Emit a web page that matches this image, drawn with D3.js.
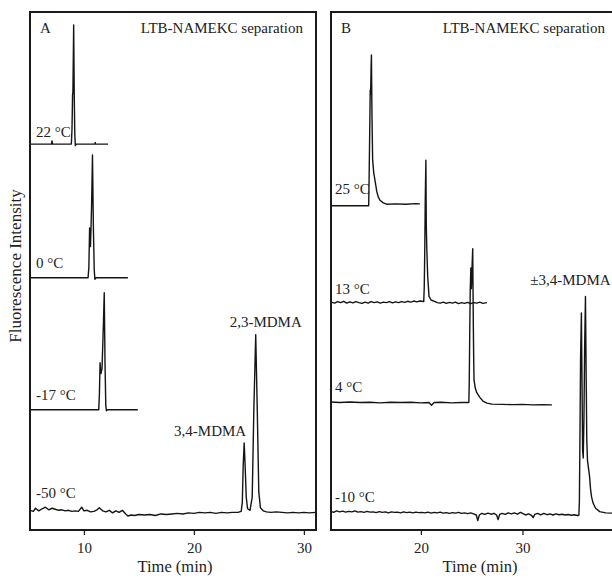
<!DOCTYPE html>
<html>
<head>
<meta charset="utf-8">
<script src="https://cdn.jsdelivr.net/npm/d3@7"></script>
<style>
  body { margin: 0; background: #fff; }
  svg text { font-family: "Liberation Serif", "Times New Roman", serif; fill: #222; }
</style>
</head>
<body>
<svg id="chart" width="612" height="579"></svg>
<script>
// panel A traces: [time (min), signal above own baseline]
const a22 = [[5.1,0],[7.05,0],[7.1,0.6],[7.15,0],[8.86,0],[8.92,3],[8.97,9.5],[9.0,10],[9.04,17],[9.07,23],[9.12,10],[9.17,2],[9.22,-0.3],[9.3,0],[11.0,0],[11.03,0.3],[11.06,0],[12.2,0]];
const a0 = [[5.1,0],[10.38,0],[10.45,2],[10.52,9.6],[10.6,6],[10.7,14],[10.78,23.7],[10.86,10],[10.94,1.5],[11.0,-0.3],[11.1,0],[14.0,0]];
const a17 = [[5.1,0],[11.35,0],[11.41,3],[11.47,9.1],[11.55,7],[11.65,8],[11.78,17],[11.85,22.6],[11.92,9],[11.99,0.8],[12.05,-0.2],[12.15,0],[14.9,0]];
const a50 = [[5.1,0.5],[5.4,0.3],[5.6,0.9],[5.9,0.4],[6.2,0.8],[6.5,1.1],[6.8,0.6],[7.1,0.9],[7.4,0.7],[7.7,0.5],[8.0,0.6],[8.3,0.4],[8.6,0.5],[8.9,0.3],[9.2,0.4],[9.5,0.3],[9.8,1.1],[10.0,0.4],[10.3,0.5],[10.6,0.2],[10.9,0.3],[11.2,0.6],[11.4,1.0],[11.7,0.4],[12.0,0.2],[12.3,0.5],[12.6,0.0],[12.9,0.4],[13.2,0.1],[13.5,0.5],[13.8,-0.2],[14.0,-0.6],[14.3,-0.4],[14.6,-0.5],[15.0,-0.3],[15.5,-0.4],[16.0,-0.3],[16.5,-0.5],[17.0,-0.2],[17.5,-0.3],[18.0,-0.2],[18.5,-0.1],[19.0,-0.2],[19.5,0.0],[20.0,-0.1],[20.5,0.1],[21.0,0.0],[21.5,0.1],[22.0,-0.1],[22.5,0.1],[23.0,0.0],[23.5,0.1],[24.0,0.1],[24.3,0.3],[24.4,2],[24.48,9],[24.57,13.5],[24.66,9],[24.76,3],[24.88,0.8],[25.1,0.5],[25.3,3],[25.45,20],[25.62,34.4],[25.76,20],[25.9,4],[26.05,1.0],[26.3,0.4],[26.6,0.2],[27.0,0.1],[27.5,0.2],[28.0,0.1],[28.5,0.0],[29.0,0.1],[29.5,0.0],[30.0,0.1],[30.5,0.0],[31.1,0.1]];

// panel B traces
const b25 = [[11.15,0],[14.86,0],[14.9,5],[14.96,14],[15.01,22.3],[15.05,21.5],[15.1,27],[15.13,29.1],[15.18,18],[15.25,8.8],[15.35,6.5],[15.48,4.9],[15.65,2.8],[15.8,1.7],[15.97,1.06],[16.3,0.55],[16.63,0.3],[17.5,0.35],[18.5,0.3],[19.5,0.4],[19.9,0.35]];
const b13 = [[11.15,0.1],[11.5,-0.1],[11.8,0.2],[12.1,0],[12.4,0.25],[12.7,-0.1],[13.0,0.15],[13.3,-0.05],[13.6,0.2],[13.9,0],[14.2,-0.15],[14.5,0.1],[14.8,-0.1],[15.1,0.2],[15.4,0],[15.7,0.15],[16.0,-0.1],[16.3,0.1],[16.6,0],[16.9,0.2],[17.2,-0.05],[17.5,0.15],[17.8,0],[18.1,0.2],[18.4,0.05],[18.7,0.25],[19.0,0.1],[19.3,0.3],[19.6,0.15],[19.9,0.3],[20.28,0.2],[20.33,3],[20.38,10],[20.43,20],[20.49,27.5],[20.53,15],[20.58,10.5],[20.67,5],[20.8,1.2],[21.0,0.5],[21.4,0.2],[21.6,0],[21.9,-0.1],[22.2,0.1],[22.5,-0.15],[22.8,0.05],[23.1,-0.1],[23.4,0.1],[23.7,-0.2],[24.0,0],[24.3,-0.15],[24.6,0.05],[24.9,-0.2],[25.2,0],[25.5,-0.1],[25.8,0.1],[26.1,-0.15],[26.5,0]];
const b4 = [[11.15,0.1],[12,0],[13,0.1],[14,0],[15,0.05],[16,-0.05],[17,0.05],[18,0],[19,0.05],[20,-0.05],[20.8,0],[21.05,-0.5],[21.3,0],[22,0.05],[23,-0.05],[24,0],[24.72,0],[24.76,4],[24.8,12],[24.86,22],[24.92,26],[24.97,22],[25.03,26],[25.1,29.7],[25.16,15],[25.2,8],[25.23,4.4],[25.35,2.8],[25.5,1.9],[25.8,1.0],[26.1,0.3],[26.5,-0.1],[27.0,-0.3],[28.0,-0.35],[29.0,-0.4],[30.0,-0.35],[31.0,-0.45],[32.0,-0.4],[32.9,-0.45]];
const b10 = [[11.15,0.2],[11.4,0.0],[11.7,0.3],[12.0,0.1],[12.3,0.25],[12.6,0.05],[12.9,0.2],[13.2,0.1],[13.5,0.3],[13.8,0.05],[14.1,0.15],[14.4,0.0],[14.7,0.2],[15.0,0.05],[15.3,0.1],[15.6,-0.05],[15.9,0.15],[16.2,0.0],[16.5,0.1],[16.8,-0.1],[17.1,0.1],[17.4,0.0],[17.7,0.05],[18.0,-0.1],[18.3,0.1],[18.6,-0.05],[18.9,0.05],[19.2,-0.1],[19.5,0.05],[19.8,-0.05],[20.1,0.0],[20.4,-0.1],[20.7,0.05],[21.0,-0.15],[21.3,0.0],[21.6,-0.1],[21.9,0.05],[22.2,-0.15],[22.5,-0.05],[22.8,-0.2],[23.1,-0.05],[23.4,-0.15],[23.7,0.0],[24.0,-0.2],[24.3,-0.1],[24.6,-0.25],[24.9,-0.1],[25.2,-0.3],[25.45,-0.5],[25.6,-1.6],[25.75,-0.5],[26.0,-0.2],[26.3,-0.4],[26.6,-0.15],[26.9,-0.35],[27.2,-0.2],[27.45,-0.5],[27.6,-1.4],[27.75,-0.4],[28.0,-0.2],[28.3,-0.4],[28.6,-0.1],[28.9,-0.3],[29.2,-0.1],[29.5,-0.35],[29.8,0.0],[30.0,-0.2],[30.3,-0.5],[30.6,-0.3],[30.9,-0.6],[31.05,-1.0],[31.2,-0.4],[31.5,-0.2],[31.8,-0.5],[32.1,-0.2],[32.4,-0.45],[32.7,-0.3],[33.0,-0.5],[33.3,-0.3],[33.6,-0.45],[33.9,-0.35],[34.2,-0.5],[34.5,-0.4],[34.8,-0.55],[35.1,-0.45],[35.4,-0.6],[35.55,-0.55],[35.6,2],[35.66,15],[35.72,30],[35.8,38.5],[35.86,25],[35.92,12],[35.98,10.5],[36.05,18],[36.12,32],[36.2,41.7],[36.27,26],[36.33,14],[36.4,10],[36.5,8.5],[36.6,7],[36.7,4.5],[36.8,3],[36.95,1.8],[37.2,0.8],[37.6,0.15],[38.2,-0.1],[39.0,-0.15]];

// stacking baselines (same intensity units as the traces)
const offsetsA = [74.5, 48.7, 23.2, 3.3];
const offsetsB = [62.6, 43.9, 24.6, 3.4];
const tempsA = ["22 °C", "0 °C", "-17 °C", "-50 °C"];
const tempsB = ["25 °C", "13 °C", "4 °C", "-10 °C"];
const ticksA = [10, 20, 30];
const ticksB = [20, 30];

const svg = d3.select("#chart");
const y = d3.scaleLinear().domain([0, 100]).range([530, 12]);

function drawPanel(cfg) {
    const x = d3.scaleLinear().domain(cfg.domain).range(cfg.range);
    const g = svg.append("g");

    svg.append("clipPath").attr("id", cfg.id)
        .append("rect")
        .attr("x", cfg.range[0]).attr("y", 12)
        .attr("width", cfg.range[1] - cfg.range[0]).attr("height", 518);

    const line = off => d3.line().x(d => x(d[0])).y(d => y(d[1] + off));

    g.append("g").attr("clip-path", `url(#${cfg.id})`)
        .selectAll("path")
        .data(cfg.traces)
        .enter().append("path")
        .attr("d", (d, i) => line(cfg.offsets[i])(d))
        .attr("fill", "none")
        .attr("stroke", "#141414")
        .attr("stroke-width", 1.4)
        .attr("stroke-linejoin", "round");

    // temperature labels
    g.selectAll(".temp")
        .data(cfg.temps)
        .enter().append("text")
        .attr("class", "temp")
        .attr("x", cfg.range[0] + cfg.labelDx)
        .attr("y", (d, i) => y(cfg.offsets[i]) + cfg.labelDy[i])
        .style("font-size", "15px")
        .text(d => d);

    // x axis
    const axis = g.append("g")
        .attr("transform", "translate(0,530)")
        .call(d3.axisBottom(x).tickValues(cfg.ticks).tickSize(5).tickPadding(7).tickFormat(d3.format("d")));
    axis.select(".domain").remove();
    axis.selectAll("line").attr("stroke", "#222").attr("stroke-width", 1.3);
    axis.selectAll("text").style("font-size", "15px").style("font-family", "Liberation Serif, serif").attr("fill", "#222");

    g.append("rect")
        .attr("x", cfg.range[0]).attr("y", 12)
        .attr("width", cfg.range[1] - cfg.range[0]).attr("height", 518)
        .attr("fill", "none").attr("stroke", "#1a1a1a").attr("stroke-width", 2);

    g.append("text").attr("x", cfg.range[0] + 10).attr("y", 33)
        .style("font-size", "15px").text(cfg.letter);
    g.append("text").attr("x", cfg.titleRight).attr("y", 33)
        .attr("text-anchor", "end")
        .style("font-size", "15px").text("LTB-NAMEKC separation");

    g.append("text").attr("x", cfg.xTitleX).attr("y", 572)
        .attr("text-anchor", "middle")
        .style("font-size", "16.5px").text("Time (min)");

    cfg.peaks.forEach(p => {
        g.append("text")
            .attr("x", x(p.t) + p.dx)
            .attr("y", y(p.v) + p.dy)
            .attr("text-anchor", p.anchor)
            .style("font-size", "15px")
            .text(p.name);
    });
}

drawPanel({
    id: "clipA", letter: "A",
    domain: [5.1, 31.1], range: [30, 316],
    traces: [a22, a0, a17, a50], offsets: offsetsA, temps: tempsA,
    labelDx: 6, labelDy: [-7, -10, -10, -15],
    ticks: ticksA, titleRight: 303, xTitleX: 175,
    peaks: [
        {name: "3,4-MDMA", t: 24.57, v: offsetsA[3] + 13.5, dx: 2, dy: -7, anchor: "end"},
        {name: "2,3-MDMA", t: 25.62, v: offsetsA[3] + 34.4, dx: 10, dy: -8, anchor: "middle"}
    ]
});

drawPanel({
    id: "clipB", letter: "B",
    domain: [11.15, 39.6], range: [331, 620],
    traces: [b25, b13, b4, b10], offsets: offsetsB, temps: tempsB,
    labelDx: 4, labelDy: [-12, -9, -11, -10],
    ticks: ticksB, titleRight: 605, xTitleX: 480,
    peaks: [
        {name: "±3,4-MDMA", t: 36.2, v: offsetsB[3] + 41.7, dx: -15, dy: -11, anchor: "middle"}
    ]
});

svg.append("text")
    .attr("transform", "translate(21,266) rotate(-90)")
    .attr("text-anchor", "middle")
    .style("font-size", "17px")
    .text("Fluorescence Intensity");
</script>
</body>
</html>
